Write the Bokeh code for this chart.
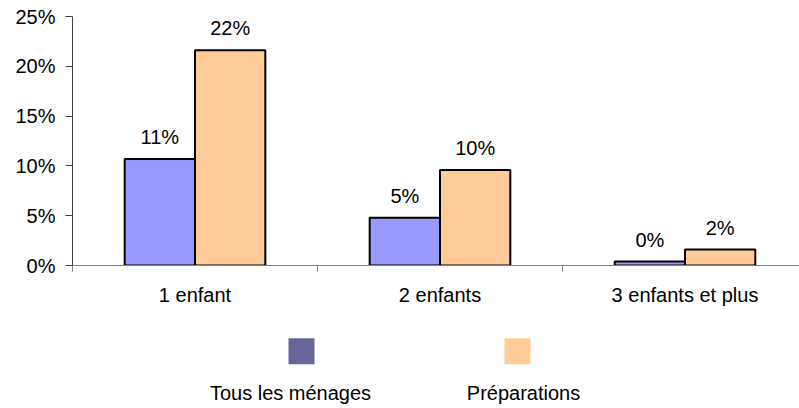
import numpy as np
from bokeh.plotting import figure
from bokeh.layouts import column
from bokeh.models import Range1d, FixedTicker, PrintfTickFormatter, ColumnDataSource
from bokeh.core.properties import value
from bokeh.embed import file_html
from bokeh.resources import INLINE

categories = ["1 enfant", "2 enfants", "3 enfants et plus"]
series_names = ["Tous les ménages", "Préparations"]
menages = [10.7, 4.8, 0.4]
preparations = [21.6, 9.6, 1.6]
bar_colors = ["#9999FF", "#FFCC99"]
legend_colors = ["#666699", "#FFCC99"]
y_ticks = [0, 5, 10, 15, 20, 25]

FONT = "Liberation Sans"
FS = "20px"

n = len(categories)
centers = np.arange(n) + 0.5
bw = 0.287

p = figure(width=799, height=318, output_backend="svg", toolbar_location=None,
           x_range=Range1d(0, 727 / 245), y_range=Range1d(0, 25),
           min_border_left=72, min_border_right=0, min_border_top=16, min_border_bottom=53)
p.outline_line_color = None
p.xgrid.visible = False
p.ygrid.visible = False
p.background_fill_color = "white"
p.border_fill_color = "white"

for vals, off, col in [(menages, -bw / 2, bar_colors[0]), (preparations, bw / 2, bar_colors[1])]:
    src = ColumnDataSource(dict(x=centers + off, top=vals,
                                lab=[f"{int(round(v))}%" for v in vals]))
    p.vbar(x="x", top="top", width=bw, bottom=0, source=src, fill_color=col,
           line_color="black", line_width=2)
    p.text(x="x", y="top", text="lab", source=src, text_align="center",
           text_baseline="alphabetic", y_offset=-22, text_font=value(FONT),
           text_font_size=FS, text_color="black")

# x axis
xa = p.xaxis[0]
xa.ticker = FixedTicker(ticks=list(centers), minor_ticks=list(range(n + 1)))
xa.major_label_overrides = {float(c): lab for c, lab in zip(centers, categories)}
xa.major_tick_line_color = None
xa.major_tick_in = 0
xa.major_tick_out = 0
xa.minor_tick_in = 0
xa.minor_tick_out = 6
xa.minor_tick_line_color = "#808080"
xa.axis_line_color = "#808080"
xa.major_label_standoff = 12
xa.major_label_text_font = FONT
xa.major_label_text_font_size = FS
xa.major_label_text_color = "black"

ya = p.yaxis[0]
ya.ticker = FixedTicker(ticks=y_ticks)
ya.formatter = PrintfTickFormatter(format="%d%%")
ya.minor_tick_line_color = None
ya.major_tick_in = 0
ya.major_tick_out = 7
ya.major_label_standoff = 10
ya.axis_line_color = "#404040"
ya.major_tick_line_color = "#404040"
ya.major_label_text_font = FONT
ya.major_label_text_font_size = FS
ya.major_label_text_color = "black"

# legend panel (page coordinates; frame is aligned with the chart frame: x from 72 to 799)
lg = figure(width=799, height=90, output_backend="svg", toolbar_location=None,
            x_range=Range1d(72, 799), y_range=Range1d(408, 318),
            min_border=0, min_border_left=0, min_border_right=0,
            min_border_top=0, min_border_bottom=0)
lg.axis.visible = False
lg.xgrid.visible = False
lg.ygrid.visible = False
lg.outline_line_color = None
lg.rect(x=[301, 517], y=[350.7, 350.7], width=26, height=26,
        fill_color=legend_colors, line_color=None)
lg.text(x=[290, 523], y=[392, 392], text=series_names, text_align="center",
        text_baseline="alphabetic", text_font=value(FONT), text_font_size=FS,
        text_color="black")

layout = column(p, lg, spacing=0)
open("out.html", "w").write(file_html(layout, INLINE))
